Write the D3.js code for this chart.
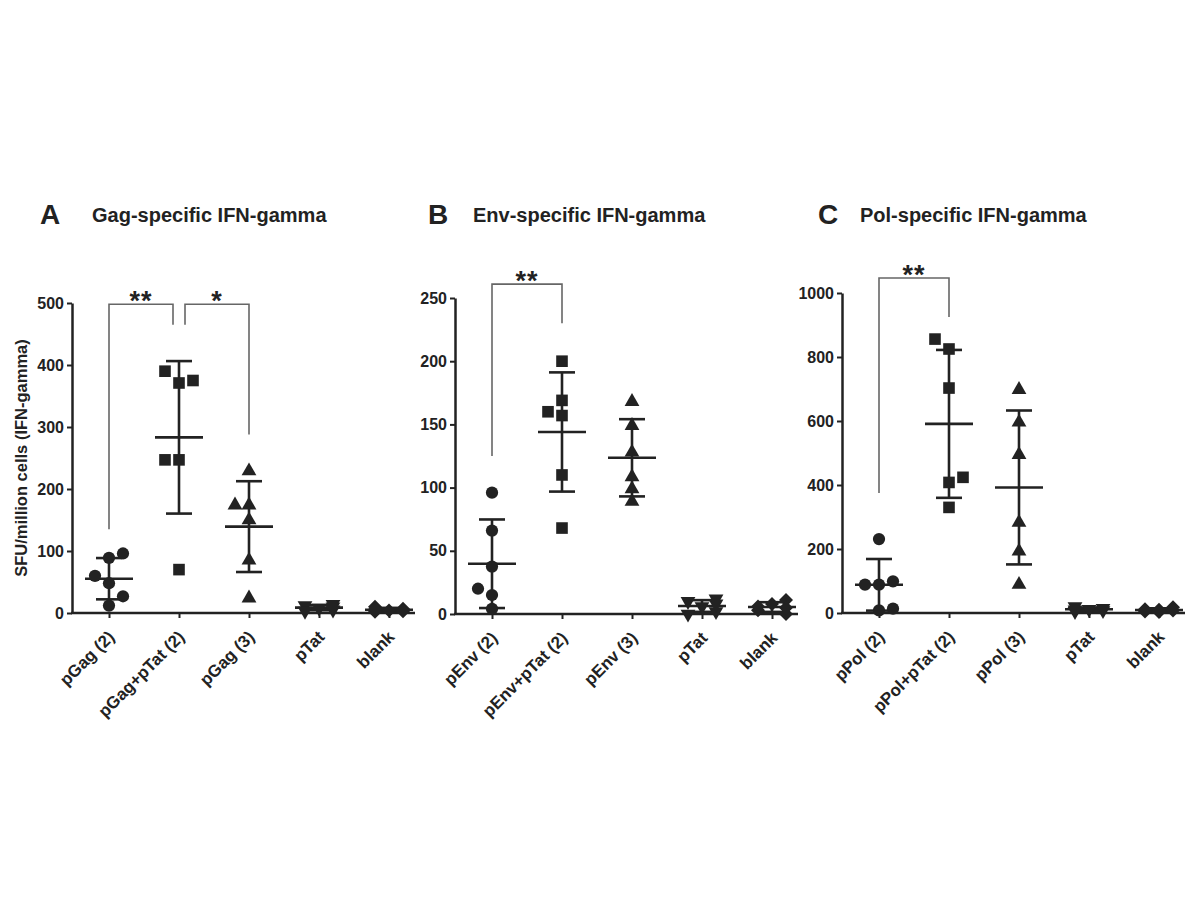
<!DOCTYPE html>
<html><head><meta charset="utf-8">
<script src="https://cdnjs.cloudflare.com/ajax/libs/d3/7.8.5/d3.min.js"></script>
<style>
body{margin:0;background:#fff}
svg{display:block}
text{font-family:"Liberation Sans",Arial,sans-serif;font-weight:bold;fill:#222}
</style>
</head><body><svg id="chart" width="1200" height="900"></svg>
<script>
// ---------- DATA ----------
const panelLetters = ["A", "B", "C"];
const panelTitles = ["Gag-specific IFN-gamma", "Env-specific IFN-gamma", "Pol-specific IFN-gamma"];
const yAxisLabel = "SFU/million cells (IFN-gamma)";

const gagCategories = ["pGag (2)", "pGag+pTat (2)", "pGag (3)", "pTat", "blank"];
const envCategories = ["pEnv (2)", "pEnv+pTat (2)", "pEnv (3)", "pTat", "blank"];
const polCategories = ["pPol (2)", "pPol+pTat (2)", "pPol (3)", "pTat", "blank"];

const gagValues = [
  [89, 48, 12, 60, 96, 27],
  [371, 390, 375, 247, 247, 70],
  [229, 174, 150, 85, 24, 174],
  [8, 12, 5, 14, 3, 10],
  [4, 2, 7, 10, 3, 6]
];
const envValues = [
  [96, 66, 37.5, 15, 4, 20],
  [200, 169, 157, 110, 68, 160],
  [168, 149, 128, 108.5, 89, 99],
  [6, 10, 2, 12, 0, 8],
  [8, 3, 11, 0, 5, 6]
];
const polValues = [
  [231, 88.5, 8, 88.5, 99, 13.5],
  [825, 703, 408, 330, 856, 424],
  [698, 596, 495, 283, 193, 89],
  [12, 20, 8, 15, 5, 10],
  [10, 5, 18, 8, 3, 12]
];

const gagTicks = [0, 100, 200, 300, 400, 500];
const envTicks = [0, 50, 100, 150, 200, 250];
const polTicks = [0, 200, 400, 600, 800, 1000];

// significance brackets (values in data units)
const gagBrackets = [
  {from: 0, to: 1, top: 498, leftEnd: 135, rightEnd: 465, label: "**"},
  {from: 1, to: 2, top: 498, leftEnd: 465, rightEnd: 288, label: "*"}
];
const envBrackets = [
  {from: 0, to: 1, top: 261, leftEnd: 125, rightEnd: 230, label: "**"}
];
const polBrackets = [
  {from: 0, to: 1, top: 1047, leftEnd: 375, rightEnd: 925, label: "**"}
];

// ---------- LAYOUT ----------
const panels = [
  {cats: gagCategories, vals: gagValues, ticks: gagTicks, brackets: gagBrackets,
   axisX: 72, y0: 613, yTop: 303, letterX: 40, titleX: 92},
  {cats: envCategories, vals: envValues, ticks: envTicks, brackets: envBrackets,
   axisX: 455, y0: 614, yTop: 298, letterX: 428, titleX: 473},
  {cats: polCategories, vals: polValues, ticks: polTicks, brackets: polBrackets,
   axisX: 842, y0: 613, yTop: 293, letterX: 818, titleX: 860}
];

const INK = "#222";
const FONT = "Liberation Sans, Arial, sans-serif";
const svg = d3.select("#chart");

const shapes = [
  d3.symbol().type(d3.symbolCircle).size(118)(),
  d3.symbol().type(d3.symbolSquare).size(135)(),
  d3.symbol().type(d3.symbolTriangle).size(95)(),
  d3.symbol().type(d3.symbolTriangle).size(95)(),
  "M0,-7L7,0L0,7L-7,0Z"
];
const shapeRotate = [0, 0, 0, 180, 0];

function arrange(vals, y) {
  const D = 12, STEP = 14;
  const cols = new Map();
  const md = (c, py) => {
    const arr = cols.get(c) || [];
    return arr.length ? d3.min(arr, q => Math.abs(q - py)) : Infinity;
  };
  return vals.map(v => {
    const py = y(v);
    let col;
    if (md(0, py) >= D) col = 0;
    else {
      const cands = [-1, 1].filter(c => md(c, py) >= D);
      if (cands.length) col = cands.reduce((a, b) => md(b, py) > md(a, py) ? b : a);
      else col = [0, -1, 1].reduce((a, b) => md(b, py) > md(a, py) ? b : a);
    }
    if (!cols.has(col)) cols.set(col, []);
    cols.get(col).push(py);
    return {v, py, dx: col * STEP};
  });
}

panels.forEach((p, pi) => {
  const g = svg.append("g");
  const maxTick = p.ticks[p.ticks.length - 1];
  const y = d3.scaleLinear().domain([0, maxTick]).range([p.y0, p.yTop]);
  const first = p.axisX + 37;
  const x = d3.scalePoint().domain(p.cats).range([first, first + 70 * (p.cats.length - 1)]);

  // titles
  g.append("text").attr("x", p.letterX).attr("y", 224).attr("font-size", 28).text(panelLetters[pi]);
  g.append("text").attr("x", p.titleX).attr("y", 222).attr("font-size", 20).text(panelTitles[pi]);

  // y axis
  const ya = g.append("g").attr("transform", `translate(${p.axisX},0)`)
    .call(d3.axisLeft(y).tickValues(p.ticks).tickFormat(d3.format("d")).tickSize(5).tickSizeOuter(0).tickPadding(3));
  ya.select(".domain").attr("stroke", INK).attr("stroke-width", 2.5);
  ya.selectAll(".tick line").attr("stroke", INK).attr("stroke-width", 2);
  ya.selectAll(".tick text").attr("font-size", 16).attr("font-family", FONT)
    .attr("font-weight", "bold").attr("fill", INK);

  // x axis
  const lastX = x(p.cats[p.cats.length - 1]);
  g.append("line").attr("x1", p.axisX - 1).attr("x2", lastX + 26).attr("y1", p.y0).attr("y2", p.y0)
    .attr("stroke", INK).attr("stroke-width", 2.5);
  const xa = g.append("g").attr("transform", `translate(0,${p.y0})`)
    .call(d3.axisBottom(x).tickSize(5).tickSizeOuter(0));
  xa.select(".domain").remove();
  xa.selectAll(".tick line").attr("stroke", INK).attr("stroke-width", 2);
  xa.selectAll(".tick text")
    .attr("font-size", 17).attr("font-family", FONT)
    .attr("font-weight", "bold").attr("fill", INK)
    .attr("text-anchor", "end").attr("dy", 0).attr("y", 0)
    .attr("transform", "translate(6,25) rotate(-45)");

  // y label
  if (pi === 0) {
    g.append("text").attr("transform", `translate(27,${(p.y0 + p.yTop) / 2}) rotate(-90)`)
      .attr("text-anchor", "middle").attr("font-size", 16.5).attr("fill", "#333").text(yAxisLabel);
  }

  // brackets
  const ends = {};
  p.brackets.forEach(b => { ends[b.from] = (ends[b.from] || 0) + 1; ends[b.to] = (ends[b.to] || 0) + 1; });
  p.brackets.forEach(b => {
    const xl = x(p.cats[b.from]) + (ends[b.from] > 1 ? 6 : 0);
    const xr = x(p.cats[b.to]) - (ends[b.to] > 1 ? 6 : 0);
    const yt = y(b.top);
    g.append("path")
      .attr("d", `M${xl},${y(b.leftEnd)}V${yt}H${xr}V${y(b.rightEnd)}`)
      .attr("fill", "none").attr("stroke", "#666").attr("stroke-width", 1.6);
    g.append("text").attr("x", (xl + xr) / 2).attr("y", yt + 6).attr("text-anchor", "middle")
      .attr("font-size", 27).attr("fill", "#333").attr("letter-spacing", 1).text(b.label);
  });

  // groups
  p.vals.forEach((vals, ci) => {
    const cx = x(p.cats[ci]);
    const m = d3.mean(vals), sd = d3.deviation(vals);
    const eg = g.append("g").attr("stroke", INK).attr("stroke-width", 2.6);
    eg.append("line").attr("x1", cx).attr("x2", cx).attr("y1", y(m + sd)).attr("y2", y(Math.max(0, m - sd)));
    eg.append("line").attr("x1", cx - 24).attr("x2", cx + 24).attr("y1", y(m)).attr("y2", y(m));
    eg.append("line").attr("x1", cx - 13).attr("x2", cx + 13).attr("y1", y(m + sd)).attr("y2", y(m + sd));
    eg.append("line").attr("x1", cx - 13).attr("x2", cx + 13).attr("y1", y(Math.max(0, m - sd))).attr("y2", y(Math.max(0, m - sd)));
    const pts = arrange(vals, y);
    g.selectAll(null).data(pts).enter().append("path")
      .attr("d", shapes[ci])
      .attr("transform", d => `translate(${cx + d.dx},${d.py}) rotate(${shapeRotate[ci]})`)
      .attr("fill", INK);
  });
});
</script>
</body></html>
